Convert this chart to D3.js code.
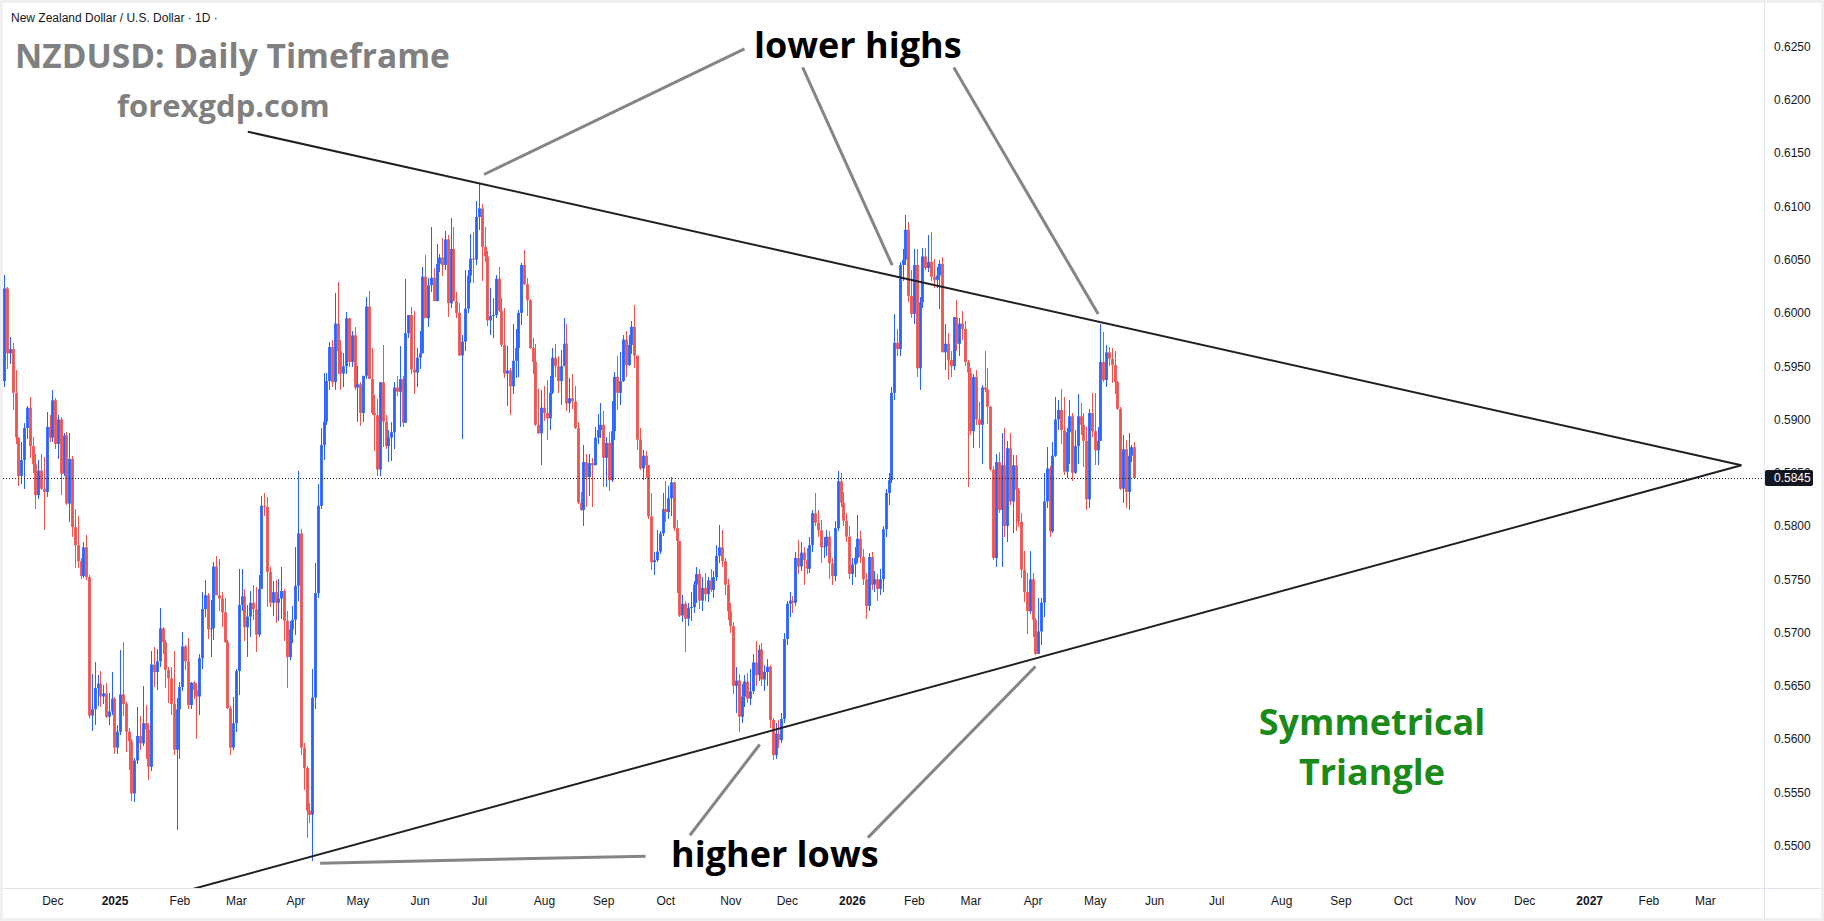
<!DOCTYPE html>
<html>
<head>
<meta charset="utf-8">
<title>NZDUSD Daily Timeframe</title>
<script src="https://d3js.org/d3.v7.min.js"></script>
<style>
  body { margin: 0; background: #fff; }
  svg { display: block; }
  .axis text { font-family: "Liberation Sans", Arial, sans-serif; font-size: 12px; fill: #131722; }
  .axis .year text { font-weight: bold; }
  .hdr { font-family: "Liberation Sans", Arial, sans-serif; font-size: 12px; fill: #131722; }
  .big { font-family: "Open Sans", "Noto Sans", sans-serif; font-weight: 700; }
</style>
</head>
<body>
<div id="chart"></div>
<script>
// ---- data (prices in pips, 1 pip = 0.0001), one daily bar per weekday from 7 Nov 2024 ----
var PIP = 0.0001;
var firstDay = new Date(2024, 10, 7);

var opens = [
 5936,6023,5962,5966,5925,5883,5847,5862,5892,5911, 5875,5858,5829,5852,5835,5832,5893,5883,5918,5877,
 5900,5849,5885,5821,5863,5799,5782,5767,5753,5780, 5752,5622,5628,5648,5652,5640,5643,5621,5626,5638,
 5592,5607,5642,5633,5607,5598,5549,5580,5603,5596, 5615,5609,5574,5670,5663,5673,5704,5691,5665,5657,
 5633,5590,5628,5649,5687,5673,5632,5653,5646,5640, 5676,5722,5735,5703,5704,5762,5735,5732,5719,5691,
 5629,5592,5615,5664,5726,5734,5705,5715,5728,5722, 5698,5741,5819,5818,5757,5728,5738,5728,5732,5739,
 5711,5677,5703,5712,5744,5793,5592,5573,5533,5529, 5639,5737,5819,5876,5898,5936,5968,5935,5990,5964,
 5943,5950,5995,5954,5979,5930,5933,5906,5941,6006, 5938,5906,5904,5853,5935,5898,5875,5883,5888,5930,
 5926,5938,5897,5981,5998,5947,5944,5958,5962,6034, 5995,6026,6033,6011,6046,6052,6045,6069,6009,6060,
 6011,6000,5960,5973,6004,6035,6051,6050,6090,6098, 6062,6053,5993,5997,5998,6032,6002,5970,5943,5946,
 5931,5955,5967,6000,6045,6027,6012,5967,5954,5895, 5887,5911,5906,5901,5925,5958,5950,5936,5950,5971,
 5915,5920,5917,5892,5822,5815,5860,5846,5859,5857, 5883,5890,5895,5864,5878,5843,5889,5940,5925,5936,
 5975,5951,5970,5987,5960,5881,5854,5866,5857,5809, 5766,5768,5776,5793,5816,5813,5826,5841,5798,5786,
 5716,5727,5713,5723,5724,5745,5755,5730,5742,5736, 5749,5740,5752,5772,5780,5767,5745,5720,5706,5650,
 5655,5621,5640,5654,5638,5645,5672,5660,5684,5656, 5663,5668,5618,5585,5605,5599,5619,5694,5727,5730,
 5728,5770,5762,5775,5768,5760,5782,5812,5803,5796, 5780,5781,5790,5765,5753,5798,5842,5822,5805,5790,
 5755,5764,5770,5788,5771,5750,5725,5771,5745,5750, 5741,5750,5797,5831,5843,5925,5972,5966,6045,6050,
 6078,6016,5999,6045,5948,6010,6053,6042,6048,6034, 6031,6035,6046,5963,5971,5956,5950,5996,5971,5990,
 5985,5954,5944,5889,5940,5900,5895,5930,5928,5912, 5853,5770,5860,5815,5857,5800,5873,5823,5857,5834,
 5804,5759,5738,5720,5750,5712,5680,5701,5728,5823, 5854,5795,5866,5900,5909,5890,5851,5888,5903,5850,
 5875,5903,5895,5880,5825,5906,5889,5871,5880,5954, 5937,5963,5957,5951,5935,5910,5835,5872,5832,5866,
 5874
];
var highs = [
 6036,6024,5977,5972,5946,5884,5879,5897,5913,5921, 5884,5868,5862,5868,5865,5907,5904,5928,5920,5904,
 5902,5887,5888,5887,5866,5816,5809,5770,5785,5792, 5754,5661,5672,5660,5664,5651,5653,5643,5663,5640,
 5613,5684,5691,5635,5610,5600,5582,5630,5622,5650, 5632,5615,5683,5686,5685,5723,5705,5693,5668,5668,
 5683,5639,5654,5701,5688,5695,5654,5655,5653,5680, 5738,5749,5737,5731,5766,5772,5769,5738,5732,5693,
 5631,5640,5666,5760,5760,5741,5726,5739,5745,5743, 5754,5828,5831,5827,5762,5748,5749,5750,5762,5741,
 5720,5711,5725,5780,5852,5797,5596,5575,5540,5666, 5765,5839,5892,5944,5944,5973,5975,6019,6029,5975,
 5962,6001,5995,5983,5987,5950,5935,5941,6015,6021, 5967,5923,5919,5935,5970,5904,5890,5898,5935,5941,
 5969,5941,6032,5998,6006,6002,5967,5983,6043,6054, 6033,6081,6042,6065,6055,6070,6077,6073,6089,6081,
 6020,6009,5979,6040,6040,6074,6076,6105,6121,6102, 6081,6058,6023,6014,6036,6043,6014,6005,5969,5948,
 5990,5985,6003,6047,6059,6033,6013,5976,5971,5929, 5928,5931,5937,5941,5967,5971,5960,5965,5995,5990,
 5939,5943,5931,5898,5832,5876,5868,5868,5864,5893, 5905,5915,5908,5884,5888,5917,5945,5960,5963,5979,
 5983,5979,5992,6007,5960,5892,5871,5870,5857,5831, 5776,5796,5795,5831,5842,5838,5846,5841,5806,5786,
 5735,5730,5728,5738,5748,5762,5760,5752,5756,5752, 5760,5758,5782,5801,5796,5770,5750,5728,5710,5668,
 5661,5652,5660,5662,5666,5680,5692,5688,5690,5670, 5675,5670,5620,5615,5618,5625,5700,5730,5738,5734,
 5776,5787,5785,5780,5779,5790,5815,5831,5815,5806, 5790,5796,5795,5770,5805,5852,5850,5832,5812,5800,
 5770,5780,5810,5795,5778,5756,5775,5776,5758,5755, 5760,5800,5835,5850,5930,5999,5985,6048,6060,6092,
 6085,6040,6060,6060,6015,6061,6061,6073,6076,6051, 6043,6050,6052,5990,5981,5964,5996,6012,5995,6002,
 5992,5956,5948,5943,5946,5916,5932,5964,5948,5913, 5856,5868,5869,5887,5892,5880,5887,5867,5867,5836,
 5812,5777,5756,5777,5756,5714,5732,5732,5850,5874, 5856,5879,5921,5918,5929,5921,5892,5918,5906,5890,
 5924,5915,5906,5893,5910,5925,5925,5893,5990,5982, 5970,5968,5967,5964,5936,5912,5885,5881,5887,5876,
 5879
];
var lows = [
 5930,5947,5952,5909,5877,5838,5839,5835,5882,5864, 5850,5816,5825,5834,5796,5827,5879,5879,5872,5863,
 5829,5847,5820,5804,5790,5761,5761,5750,5751,5749, 5620,5608,5613,5631,5630,5633,5620,5613,5623,5586,
 5586,5604,5622,5588,5571,5542,5541,5577,5590,5594, 5581,5562,5570,5649,5646,5668,5680,5648,5634,5623,
 5585,5515,5581,5645,5665,5628,5628,5638,5600,5623, 5666,5715,5694,5677,5693,5735,5720,5705,5690,5628,
 5585,5590,5607,5641,5720,5692,5677,5696,5712,5682, 5696,5741,5809,5724,5724,5716,5709,5711,5713,5692,
 5648,5674,5690,5698,5730,5585,5552,5507,5521,5486, 5628,5732,5816,5862,5895,5928,5930,5928,5943,5928,
 5930,5943,5949,5949,5928,5898,5894,5898,5938,5938, 5904,5870,5847,5847,5874,5872,5860,5861,5872,5922,
 5893,5893,5897,5976,5943,5924,5930,5947,5962,5995, 5987,6020,6011,6011,6038,6035,6040,5996,6005,6011,
 5995,5960,5882,5964,6000,6028,6028,6045,6078,6030, 6048,5988,5979,5976,5995,6001,5968,5939,5913,5904,
 5924,5939,5940,5989,6026,5997,5966,5943,5894,5886, 5857,5899,5881,5890,5924,5940,5925,5914,5950,5908,
 5906,5910,5891,5821,5814,5800,5818,5828,5818,5857, 5877,5883,5837,5837,5833,5841,5881,5909,5914,5935,
 5940,5950,5961,5948,5871,5853,5843,5845,5807,5759, 5754,5766,5774,5791,5804,5807,5809,5795,5737,5715,
 5710,5682,5706,5711,5718,5728,5722,5720,5730,5729, 5738,5732,5748,5765,5762,5735,5712,5700,5642,5625,
 5607,5615,5630,5634,5632,5642,5650,5655,5650,5645, 5650,5610,5580,5581,5592,5596,5615,5688,5715,5718,
 5725,5755,5758,5745,5755,5756,5776,5800,5790,5765, 5770,5772,5750,5745,5748,5795,5818,5800,5785,5750,
 5745,5752,5765,5765,5745,5713,5720,5740,5738,5730, 5735,5738,5790,5820,5840,5918,5960,5960,6030,6045,
 6010,5995,5990,5940,5928,6005,6040,6038,6030,6023, 6023,6004,5963,5946,5937,5940,5946,5964,5960,5975,
 5950,5837,5885,5873,5895,5873,5858,5926,5896,5852, 5768,5762,5812,5762,5790,5785,5820,5793,5795,5799,
 5751,5729,5699,5717,5696,5679,5680,5688,5715,5817, 5790,5793,5865,5890,5877,5848,5845,5858,5842,5849,
 5858,5885,5855,5815,5817,5884,5857,5857,5880,5935, 5930,5950,5934,5924,5909,5834,5822,5817,5815,5860,
 5844
];
var closes = [
 6023,5962,5966,5925,5883,5847,5862,5892,5911,5875, 5858,5829,5852,5835,5832,5893,5883,5918,5877,5900,
 5849,5885,5821,5863,5799,5782,5767,5753,5780,5752, 5622,5628,5648,5652,5640,5643,5621,5626,5638,5592,
 5607,5642,5633,5607,5598,5549,5580,5603,5596,5615, 5609,5574,5670,5663,5673,5704,5691,5665,5657,5633,
 5590,5628,5649,5687,5673,5632,5653,5646,5640,5676, 5722,5735,5703,5704,5762,5735,5732,5719,5691,5629,
 5592,5615,5664,5726,5734,5705,5715,5728,5722,5698, 5741,5819,5818,5757,5728,5738,5728,5732,5739,5711,
 5677,5703,5712,5744,5793,5592,5573,5533,5529,5639, 5737,5819,5876,5898,5936,5968,5935,5990,5964,5943,
 5950,5995,5954,5979,5930,5933,5906,5941,6006,5938, 5906,5904,5853,5935,5898,5875,5883,5888,5930,5926,
 5938,5897,5981,5998,5947,5944,5958,5962,6034,5995, 6026,6033,6011,6046,6052,6045,6069,6009,6060,6011,
 6000,5960,5973,6004,6035,6051,6050,6090,6098,6062, 6053,5993,5997,5998,6032,6002,5970,5943,5946,5931,
 5955,5967,6000,6045,6027,6012,5967,5954,5895,5887, 5911,5906,5901,5925,5958,5950,5936,5950,5971,5915,
 5920,5917,5892,5822,5815,5860,5846,5859,5857,5883, 5890,5895,5864,5878,5843,5889,5940,5925,5936,5975,
 5951,5970,5987,5960,5881,5854,5866,5857,5809,5766, 5768,5776,5793,5816,5813,5826,5841,5798,5786,5716,
 5727,5713,5723,5724,5745,5755,5730,5742,5736,5749, 5740,5752,5772,5780,5767,5745,5720,5706,5650,5655,
 5621,5640,5654,5638,5645,5672,5660,5684,5656,5663, 5668,5618,5585,5605,5599,5619,5694,5727,5730,5728,
 5770,5762,5775,5768,5760,5782,5812,5803,5796,5780, 5781,5790,5765,5753,5798,5842,5822,5805,5790,5755,
 5764,5770,5788,5771,5750,5725,5771,5745,5750,5741, 5750,5797,5831,5843,5925,5972,5966,6045,6050,6078,
 6016,5999,6045,5948,6010,6053,6042,6048,6034,6031, 6035,6046,5963,5971,5956,5950,5996,5971,5990,5985,
 5954,5944,5889,5940,5900,5895,5930,5928,5912,5853, 5770,5860,5815,5857,5800,5873,5823,5857,5834,5804,
 5759,5738,5720,5750,5712,5680,5701,5728,5823,5854, 5795,5866,5900,5909,5890,5851,5888,5903,5850,5875,
 5903,5895,5880,5825,5906,5889,5871,5880,5954,5937, 5963,5957,5951,5935,5910,5835,5872,5832,5866,5874,
 5845
];

var lastPrice = 0.5845;
var priceTicks = [0.5500,0.5550,0.5600,0.5650,0.5700,0.5750,0.5800,0.5850,
                  0.5900,0.5950,0.6000,0.6050,0.6100,0.6150,0.6200,0.6250];

// trend lines and pointer lines: [bar index, price]
var upperTrend = [[86.2, 0.6170], [614.9, 0.5857]];
var lowerTrend = [[40.0, 0.5440], [614.9, 0.5857]];
var pointers = [
  [[262.0, 0.62478], [169.8, 0.61299]],
  [[282.6, 0.62303], [314.3, 0.60448]],
  [[336.1, 0.62303], [387.2, 0.59990]],
  [[267.4, 0.55950], [242.7, 0.55098]],
  [[365.0, 0.56681], [305.7, 0.55076]],
  [[111.8, 0.54836], [227.0, 0.54902]]
];

// ---- layout ----
var W = 1824, H = 921;
var pane = {left: 3, top: 3, right: 1764, bottom: 888};
var barStep = 2.825, x0 = 4.3;

var x = d3.scaleLinear().domain([0, 600]).range([x0, x0 + 600 * barStep]);
var y = d3.scaleLinear().domain([0.5500, 0.6250]).range([845.7, 46.5]);

// weekday calendar
var dates = [];
for (var d = new Date(firstDay); dates.length < 640; d = d3.timeDay.offset(d, 1)) {
  var wd = d.getDay();
  if (wd !== 0 && wd !== 6) dates.push(new Date(d));
}
var monthStarts = [];
for (var i = 1; i < dates.length; i++) {
  if (dates[i].getMonth() !== dates[i - 1].getMonth() && x(i) < pane.right - 20) monthStarts.push(i);
}

var svg = d3.select("#chart").append("svg").attr("width", W).attr("height", H);

svg.append("rect").attr("width", W).attr("height", H).attr("fill", "#f0f0f0");
svg.append("rect").attr("x", 3).attr("y", 3).attr("width", W - 6).attr("height", H - 6).attr("fill", "#fff");

svg.append("defs").append("clipPath").attr("id", "pane")
  .append("rect").attr("x", pane.left).attr("y", pane.top)
  .attr("width", pane.right - pane.left).attr("height", pane.bottom - pane.top);

// separators
svg.append("line").attr("x1", pane.right + 0.5).attr("x2", pane.right + 0.5)
  .attr("y1", 3).attr("y2", H - 3).attr("stroke", "#e0e3eb");
svg.append("line").attr("x1", 3).attr("x2", W - 3)
  .attr("y1", pane.bottom + 0.5).attr("y2", pane.bottom + 0.5).attr("stroke", "#e0e3eb");

var plot = svg.append("g").attr("clip-path", "url(#pane)");

// candles
var candles = closes.map(function(c, i) {
  return {i: i, o: opens[i] * PIP, h: highs[i] * PIP, l: lows[i] * PIP, c: c * PIP};
});
var upCol = "#2962ff", downCol = "#ef5350";
var bodyW = 2.8;

plot.selectAll("line.wick").data(candles).enter().append("line")
  .attr("class", "wick")
  .attr("x1", function(d) { return Math.round(x(d.i)) + 0.5; })
  .attr("x2", function(d) { return Math.round(x(d.i)) + 0.5; })
  .attr("y1", function(d) { return y(d.h); })
  .attr("y2", function(d) { return y(d.l); })
  .attr("stroke", function(d) { return d.c >= d.o ? upCol : downCol; })
  .attr("stroke-width", 1)
  .attr("shape-rendering", "crispEdges");

plot.selectAll("rect.body").data(candles).enter().append("rect")
  .attr("class", "body")
  .attr("x", function(d) { return Math.round(x(d.i)) + 0.5 - bodyW / 2; })
  .attr("width", bodyW)
  .attr("y", function(d) { return y(Math.max(d.o, d.c)); })
  .attr("height", function(d) { return Math.max(1, Math.abs(y(d.o) - y(d.c))); })
  .attr("fill", function(d) { return d.c >= d.o ? upCol : downCol; });

// last price dotted line
plot.append("line")
  .attr("x1", pane.left).attr("x2", pane.right)
  .attr("y1", Math.round(y(lastPrice)) + 0.5).attr("y2", Math.round(y(lastPrice)) + 0.5)
  .attr("stroke", "#131722").attr("stroke-dasharray", "1,2");

// trend lines
var line = d3.line().x(function(p) { return x(p[0]); }).y(function(p) { return y(p[1]); });
[upperTrend, lowerTrend].forEach(function(t) {
  plot.append("path").attr("d", line(t)).attr("fill", "none")
    .attr("stroke", "#1e1f24").attr("stroke-width", 2);
});
pointers.forEach(function(t) {
  plot.append("path").attr("d", line(t)).attr("fill", "none")
    .attr("stroke", "#858585").attr("stroke-width", 3);
});

// axes
var yAxis = d3.axisRight(y).tickValues(priceTicks).tickFormat(d3.format(".4f"))
  .tickSize(0).tickPadding(10);
svg.append("g").attr("class", "axis").attr("transform", "translate(" + pane.right + ",0)")
  .call(yAxis).call(function(g) { g.select(".domain").remove(); });

var xAxis = d3.axisBottom(x).tickValues(monthStarts).tickSize(0).tickPadding(8)
  .tickFormat(function(i) {
    var dt = dates[i];
    return dt.getMonth() === 0 ? d3.timeFormat("%Y")(dt) : d3.timeFormat("%b")(dt);
  });
svg.append("g").attr("class", "axis").attr("transform", "translate(0," + pane.bottom + ")")
  .call(xAxis)
  .call(function(g) {
    g.select(".domain").remove();
    g.selectAll(".tick").classed("year", function(i) { return dates[i].getMonth() === 0; });
  });

// last price label
var ly = y(lastPrice);
svg.append("rect").attr("x", pane.right + 1).attr("y", ly - 8).attr("width", 48).attr("height", 16)
  .attr("rx", 2).attr("fill", "#131722");
svg.append("text").attr("x", pane.right + 10).attr("y", ly).attr("dy", "0.35em")
  .attr("font-family", "Liberation Sans, Arial, sans-serif").attr("font-size", 12)
  .attr("fill", "#fff").text(d3.format(".4f")(lastPrice));

// texts
svg.append("text").attr("class", "hdr").attr("x", 11).attr("y", 22)
  .text("New Zealand Dollar / U.S. Dollar \u00b7 1D \u00b7");

svg.append("text").attr("class", "big").attr("x", 15).attr("y", 68)
  .attr("font-size", 33.5).attr("fill", "#808080").text("NZDUSD: Daily Timeframe");
svg.append("text").attr("class", "big").attr("x", 117).attr("y", 117)
  .attr("font-size", 31).attr("fill", "#808080").text("forexgdp.com");

svg.append("text").attr("class", "big").attr("x", 754).attr("y", 58)
  .attr("font-size", 36).attr("fill", "#000").text("lower highs");
svg.append("text").attr("class", "big").attr("x", 671).attr("y", 867)
  .attr("font-size", 36).attr("fill", "#000").text("higher lows");

svg.append("text").attr("class", "big").attr("x", 1372).attr("y", 735)
  .attr("text-anchor", "middle").attr("font-size", 36).attr("fill", "#1a8a1a").text("Symmetrical");
svg.append("text").attr("class", "big").attr("x", 1372).attr("y", 785)
  .attr("text-anchor", "middle").attr("font-size", 36).attr("fill", "#1a8a1a").text("Triangle");
</script>
</body>
</html>
